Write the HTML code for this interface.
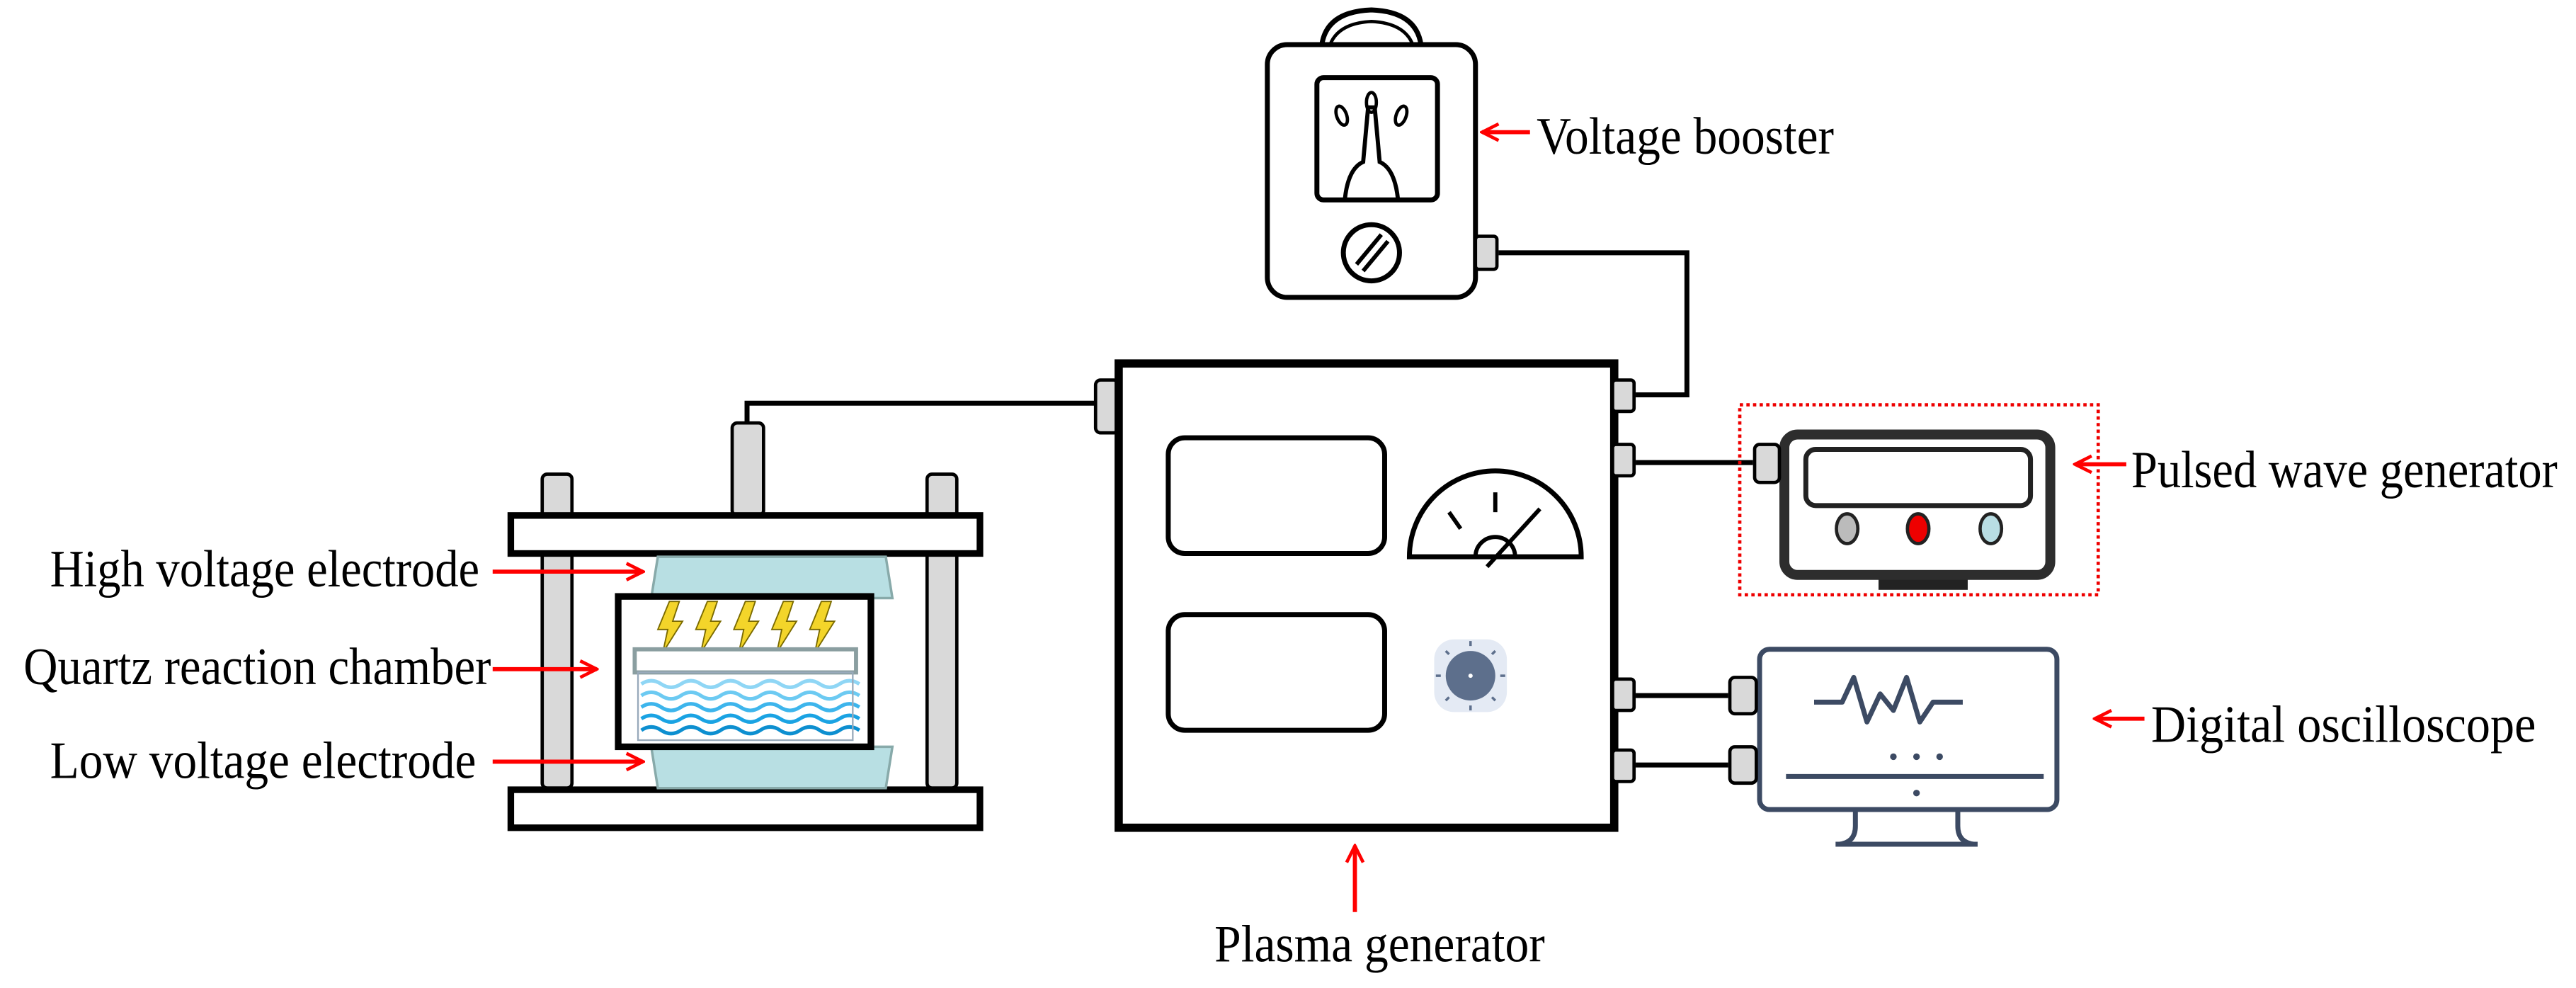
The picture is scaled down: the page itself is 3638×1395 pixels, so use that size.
<!DOCTYPE html>
<html><head><style>html,body{margin:0;padding:0;background:#fff}svg{display:block}</style></head>
<body>
<svg width="3638" height="1395" viewBox="0 0 1559 598" xmlns="http://www.w3.org/2000/svg" font-family="Liberation Serif, serif">
<defs>
<marker id="ah" viewBox="0 0 10 10" refX="9" refY="5" markerWidth="5" markerHeight="5" orient="auto"><path d="M1 1 L9 5 L1 9" fill="none" stroke="#f00" stroke-width="1.6"/></marker>
</defs>
<rect width="1559" height="598" fill="#fff"/>
<!-- left apparatus -->
<path d="M452 258 V244 H664" fill="none" stroke="#000" stroke-width="3"/>
<rect x="328" y="287" width="18" height="190" rx="3" fill="#d9d9d9" stroke="#000" stroke-width="2"/>
<rect x="561" y="287" width="18" height="190" rx="3" fill="#d9d9d9" stroke="#000" stroke-width="2"/>
<rect x="443" y="256" width="19" height="56" rx="3" fill="#d9d9d9" stroke="#000" stroke-width="2"/>
<rect x="309" y="312" width="284" height="23" fill="#fff" stroke="#000" stroke-width="4"/>
<rect x="309" y="478" width="284" height="23" fill="#fff" stroke="#000" stroke-width="4"/>
<path d="M398 337 H536 L540 362 H394 Z" fill="#b8dfe3" stroke="#8aa" stroke-width="1.5"/>
<path d="M394 452 H540 L536 477 H398 Z" fill="#b8dfe3" stroke="#8aa" stroke-width="1.5"/>
<rect x="374" y="361" width="153" height="91" fill="#fff" stroke="#000" stroke-width="4"/>
<g fill="#f3d52a" stroke="#7a6a00" stroke-width="0.8">
<path d="M405 364 L398 381 L404 381 L401 395 L413 376 L407 376 L411 364 Z"/>
<path d="M428 364 L421 381 L427 381 L424 395 L436 376 L430 376 L434 364 Z"/>
<path d="M451 364 L444 381 L450 381 L447 395 L459 376 L453 376 L457 364 Z"/>
<path d="M474 364 L467 381 L473 381 L470 395 L482 376 L476 376 L480 364 Z"/>
<path d="M497 364 L490 381 L496 381 L493 395 L505 376 L499 376 L503 364 Z"/>
</g>
<rect x="384" y="393" width="134" height="14" fill="#fff" stroke="#8a9ea0" stroke-width="2.5"/>
<g fill="none" stroke-width="2.2">
<path d="M388 414 q6 -4 12 0 t12 0 t12 0 t12 0 t12 0 t12 0 t12 0 t12 0 t12 0 t12 0 t12 0" stroke="#8fd6f5"/>
<path d="M388 421 q6 -4 12 0 t12 0 t12 0 t12 0 t12 0 t12 0 t12 0 t12 0 t12 0 t12 0 t12 0" stroke="#6ccaf2"/>
<path d="M388 428 q6 -4 12 0 t12 0 t12 0 t12 0 t12 0 t12 0 t12 0 t12 0 t12 0 t12 0 t12 0" stroke="#3db5ec"/>
<path d="M388 435 q6 -4 12 0 t12 0 t12 0 t12 0 t12 0 t12 0 t12 0 t12 0 t12 0 t12 0 t12 0" stroke="#1aa3e3"/>
<path d="M388 442 q6 -4 12 0 t12 0 t12 0 t12 0 t12 0 t12 0 t12 0 t12 0 t12 0 t12 0 t12 0" stroke="#0d8fd0"/>
</g>
<rect x="386" y="407" width="130" height="41" fill="none" stroke="#9ab" stroke-width="1"/>
<!-- left labels -->
<g font-size="32" fill="#000">
<text x="30" y="355" textLength="260" lengthAdjust="spacingAndGlyphs">High voltage electrode</text>
<text x="14" y="414" textLength="283" lengthAdjust="spacingAndGlyphs">Quartz reaction chamber</text>
<text x="30" y="471" textLength="258" lengthAdjust="spacingAndGlyphs">Low voltage electrode</text>
</g>
<g stroke="#f00" stroke-width="2.5" marker-end="url(#ah)">
<line x1="298" y1="346" x2="389" y2="346"/>
<line x1="298" y1="405" x2="361" y2="405"/>
<line x1="298" y1="461" x2="389" y2="461"/>
</g>
<!-- plasma generator -->
<path d="M990 239 H1021 V153 H907" fill="none" stroke="#000" stroke-width="3"/>
<line x1="990" y1="280" x2="1061" y2="280" stroke="#000" stroke-width="3"/>
<line x1="990" y1="421" x2="1046" y2="421" stroke="#000" stroke-width="3"/>
<line x1="990" y1="463" x2="1046" y2="463" stroke="#000" stroke-width="3"/>
<rect x="663" y="230" width="14" height="32" rx="3" fill="#d9d9d9" stroke="#000" stroke-width="2"/>
<rect x="677" y="220" width="300" height="281" fill="#fff" stroke="#000" stroke-width="5"/>
<g fill="#d9d9d9" stroke="#000" stroke-width="2">
<rect x="976" y="230" width="13" height="19" rx="2"/>
<rect x="976" y="269" width="13" height="19" rx="2"/>
<rect x="976" y="411" width="13" height="19" rx="2"/>
<rect x="976" y="454" width="13" height="19" rx="2"/>
</g>
<rect x="707" y="265" width="131" height="70" rx="10" fill="#fff" stroke="#000" stroke-width="3"/>
<rect x="707" y="372" width="131" height="70" rx="10" fill="#fff" stroke="#000" stroke-width="3"/>
<path d="M853 337 A52 52 0 0 1 957 337 Z" fill="#fff" stroke="#000" stroke-width="3"/>
<path d="M893 337 A12 12 0 0 1 917 337" fill="none" stroke="#000" stroke-width="2.5"/>
<g stroke="#000" stroke-width="2.5"><line x1="905" y1="298" x2="905" y2="310"/><line x1="877" y1="310" x2="884" y2="320"/><line x1="932" y1="308" x2="900" y2="343"/></g>
<rect x="868" y="387" width="44" height="44" rx="12" fill="#e4eaf4"/>
<circle cx="890" cy="409" r="15" fill="#5d6f8c"/>
<g stroke="#5d6f8c" stroke-width="1.5"><line x1="890" y1="388" x2="890" y2="391"/><line x1="890" y1="427" x2="890" y2="430"/><line x1="869" y1="409" x2="872" y2="409"/><line x1="908" y1="409" x2="911" y2="409"/><line x1="875" y1="394" x2="877" y2="396"/><line x1="903" y1="422" x2="905" y2="424"/><line x1="905" y1="394" x2="903" y2="396"/><line x1="875" y1="424" x2="877" y2="422"/></g>
<circle cx="890" cy="409" r="1.3" fill="#fff"/>
<!-- voltage booster -->
<path d="M800 27 Q803 7 830 6 Q857 7 860 27" fill="#fff" stroke="#000" stroke-width="3"/>
<path d="M805 27 Q810 14 830 13 Q850 14 855 27" fill="none" stroke="#000" stroke-width="2"/>
<rect x="767" y="27" width="126" height="153" rx="12" fill="#fff" stroke="#000" stroke-width="3"/>
<rect x="797" y="47" width="73" height="74" rx="4" fill="#fff" stroke="#000" stroke-width="3"/>
<path d="M814 120 Q816 102 825 98 L828 65 L832 65 L835 98 Q844 102 846 120" fill="none" stroke="#000" stroke-width="2.5"/>
<ellipse cx="830" cy="62" rx="3" ry="6" fill="none" stroke="#000" stroke-width="2"/>
<ellipse cx="812" cy="70" rx="3" ry="6" transform="rotate(-20 812 70)" fill="none" stroke="#000" stroke-width="2"/>
<ellipse cx="848" cy="70" rx="3" ry="6" transform="rotate(20 848 70)" fill="none" stroke="#000" stroke-width="2"/>
<circle cx="830" cy="153" r="17" fill="#fff" stroke="#000" stroke-width="3"/>
<g stroke="#000" stroke-width="2.5"><line x1="821" y1="160" x2="836" y2="142"/><line x1="825" y1="164" x2="840" y2="146"/></g>
<rect x="893" y="143" width="13" height="20" rx="2" fill="#d9d9d9" stroke="#000" stroke-width="2"/>
<!-- pulsed wave generator -->
<rect x="1053" y="245" width="217" height="115" fill="none" stroke="#e00" stroke-width="2" stroke-dasharray="2,2"/>
<rect x="1137" y="348" width="54" height="9" fill="#222"/>
<rect x="1154" y="345" width="20" height="8" fill="#222"/>
<rect x="1080" y="263" width="161" height="85" rx="8" fill="#fff" stroke="#2d2d2d" stroke-width="6"/>
<rect x="1093" y="272" width="136" height="34" rx="6" fill="#fff" stroke="#222" stroke-width="3"/>
<ellipse cx="1118" cy="320" rx="6.5" ry="9" fill="#bbb" stroke="#222" stroke-width="2"/>
<ellipse cx="1161" cy="320" rx="6.5" ry="9" fill="#e00" stroke="#222" stroke-width="2"/>
<ellipse cx="1205" cy="320" rx="6.5" ry="9" fill="#b8dde3" stroke="#222" stroke-width="2"/>
<rect x="1062" y="269" width="15" height="23" rx="3" fill="#d9d9d9" stroke="#000" stroke-width="2"/>
<!-- oscilloscope -->
<path d="M1123 489 V500 Q1123 510 1113 511 H1195 Q1185 510 1185 500 V489" fill="none" stroke="#3c4a63" stroke-width="3"/>
<line x1="1111" y1="511" x2="1197" y2="511" stroke="#3c4a63" stroke-width="3"/>
<rect x="1065" y="393" width="180" height="97" rx="6" fill="#fff" stroke="#3c4a63" stroke-width="3"/>
<path d="M1098 425 H1115 L1122 410 L1130 437 L1138 420 L1146 430 L1154 410 L1162 437 L1170 425 H1188" fill="none" stroke="#3c4a63" stroke-width="3" stroke-linejoin="round"/>
<g fill="#3c4a63"><circle cx="1146" cy="458" r="2"/><circle cx="1160" cy="458" r="2"/><circle cx="1174" cy="458" r="2"/><circle cx="1160" cy="480" r="2"/></g>
<line x1="1081" y1="470" x2="1237" y2="470" stroke="#3c4a63" stroke-width="3"/>
<rect x="1047" y="410" width="16" height="22" rx="3" fill="#d9d9d9" stroke="#000" stroke-width="2"/>
<rect x="1047" y="452" width="16" height="22" rx="3" fill="#d9d9d9" stroke="#000" stroke-width="2"/>
<!-- right labels -->
<g font-size="32" fill="#000">
<text x="930" y="93" textLength="180" lengthAdjust="spacingAndGlyphs">Voltage booster</text>
<text x="1290" y="295" textLength="258" lengthAdjust="spacingAndGlyphs">Pulsed wave generator</text>
<text x="1302" y="449" textLength="233" lengthAdjust="spacingAndGlyphs">Digital oscilloscope</text>
<text x="735" y="582" textLength="200" lengthAdjust="spacingAndGlyphs">Plasma generator</text>
</g>
<g stroke="#f00" stroke-width="2.5" marker-end="url(#ah)">
<line x1="926" y1="80" x2="897" y2="80"/>
<line x1="1287" y1="281" x2="1256" y2="281"/>
<line x1="1298" y1="435" x2="1268" y2="435"/>
<line x1="820" y1="552" x2="820" y2="512"/>
</g>
</svg>
</body></html>
